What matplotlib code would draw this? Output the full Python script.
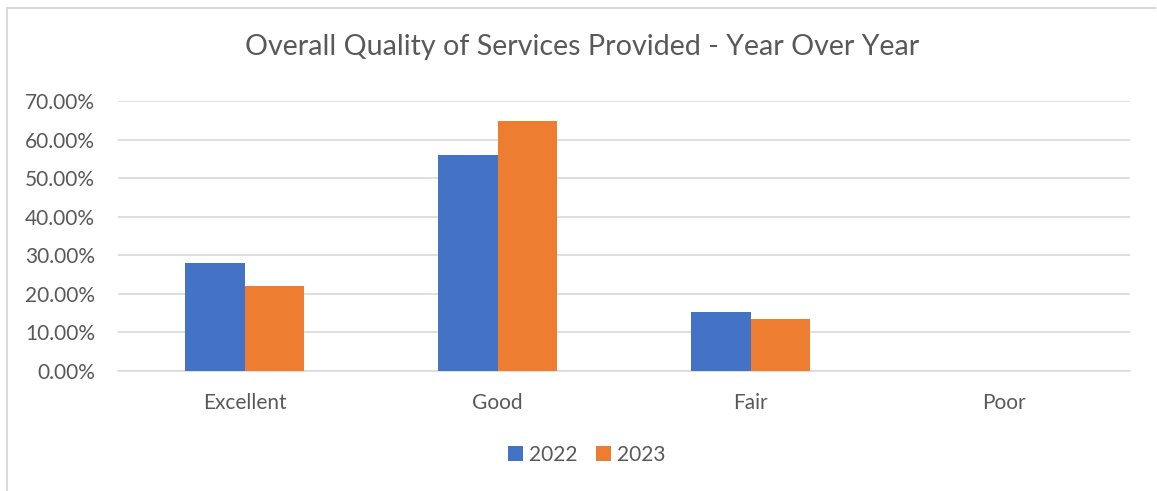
import numpy as np
import matplotlib
matplotlib.use("Agg")
import matplotlib.pyplot as plt
from matplotlib.lines import Line2D
from matplotlib.ticker import FuncFormatter

categories = ["Excellent", "Good", "Fair", "Poor"]
years = ["2022", "2023"]
vals_2022 = [0.280, 0.560, 0.153, 0.0]
vals_2023 = [0.220, 0.647, 0.135, 0.0]
title = "Overall Quality of Services Provided - Year Over Year"

plt.rcParams['font.family'] = ['Lato', 'DejaVu Sans']
text_color = '#595959'
grid_color = '#D9D9D9'

W, H = 1157, 491
fig = plt.figure(figsize=(W / 100, H / 100), dpi=100)
ax = fig.add_axes([118 / W, 1 - 371 / H, (1130 - 118) / W, (371 - 101) / H])

x = np.arange(len(categories))
bw = 0.237
ax.bar(x - bw / 2, vals_2022, bw, color='#4472C4', label=years[0], zorder=3)
ax.bar(x + bw / 2, vals_2023, bw, color='#ED7D31', label=years[1], zorder=3)

ax.set_xlim(-0.5, len(categories) - 0.5)
ax.set_ylim(0, 0.7)
ax.set_yticks(np.arange(0, 0.71, 0.1))
ax.yaxis.set_major_formatter(FuncFormatter(lambda v, p: f"{v * 100:.2f}%"))
ax.set_xticks(x)
ax.set_xticklabels(categories)
ax.tick_params(axis='both', length=0, labelsize=15, colors=text_color)
ax.tick_params(axis='y', pad=16.5)
ax.tick_params(axis='x', pad=16)
ax.grid(axis='y', color=grid_color, linewidth=1.2, zorder=0)
for s in ['top', 'right', 'left']:
    ax.spines[s].set_visible(False)
ax.spines['bottom'].set_color(grid_color)
ax.spines['bottom'].set_linewidth(1.2)

fig.text(582 / W, 1 - 47 / H, title, ha='center', va='center',
         fontsize=20.6, color=text_color)

fig.legend(loc='center', bbox_to_anchor=(587 / W, 1 - 455 / H), ncol=2,
           frameon=False, fontsize=15, labelcolor=text_color,
           handlelength=0.7, handleheight=0.7, handletextpad=0.3,
           columnspacing=0.9)

# chart border (top and left visible)
fig.add_artist(Line2D([7 / W, 7 / W], [0, 1 - 8 / H], transform=fig.transFigure,
                      color='#D9D9D9', linewidth=1.5))
fig.add_artist(Line2D([7 / W, 1155 / W], [1 - 8 / H, 1 - 8 / H], transform=fig.transFigure,
                      color='#D9D9D9', linewidth=1.5))

fig.savefig("out.png", dpi=100)
